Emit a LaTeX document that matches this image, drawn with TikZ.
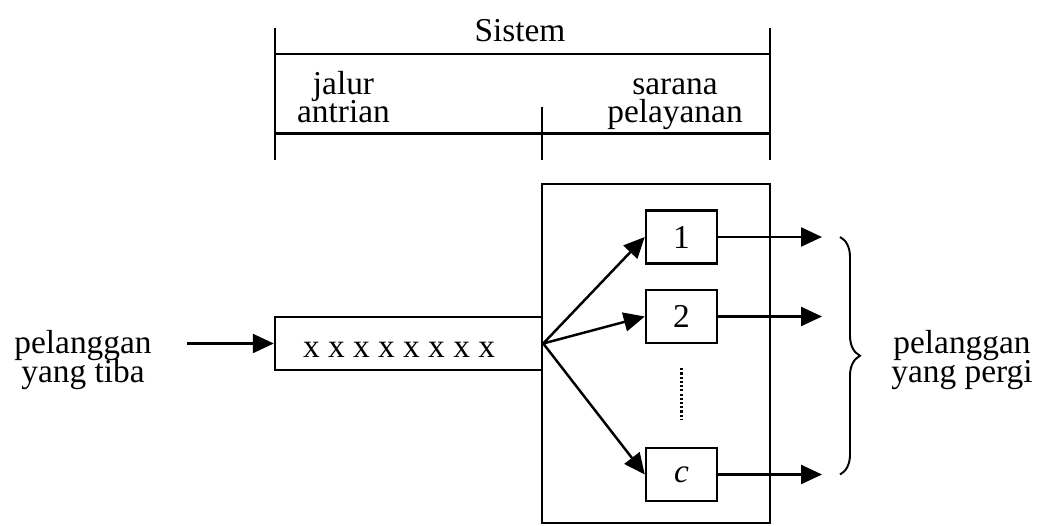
\documentclass[tikz,border=0pt]{standalone}
\usepackage{fontspec}
\setmainfont{Liberation Serif}
\usetikzlibrary{arrows.meta,positioning,calc,decorations.pathreplacing}
\newcommand\diagfont{\fontsize{19}{16}\selectfont\lineskiplimit-20pt\relax}
\tikzset{
  frame/.style  = {draw, line width=1.4pt, rectangle, inner sep=0pt},
  server/.style = {frame, minimum width=1.42cm, minimum height=1.06cm},
  txt/.style    = {align=center, inner sep=0pt},
  flow/.style   = {-{Triangle[length=4.2mm,width=3.8mm]}, line width=1.4pt},
  rule/.style   = {line width=1.4pt},
}

\begin{document}
\begin{tikzpicture}[x=1cm,y=1cm,font=\diagfont]
\useasboundingbox (0,0) rectangle (20.86,-10.52);
% system bracket
\draw[rule] (5.5,-0.57) -- (5.5,-3.2);
\draw[rule] (15.4,-0.57) -- (15.4,-3.2);
\draw[rule] (5.5,-1.08) -- (15.4,-1.08);
\draw[rule] (5.5,-2.67) -- (15.4,-2.67);
\draw[rule] (10.84,-2.14) -- (10.84,-3.2);
\node[txt,anchor=base] (sistem) at (10.4,-0.84) {Sistem};
\node[txt] (jalur) at (6.87,-1.95) {jalur\\antrian};
\node[txt] (sarana) at (13.5,-2.08) {sarana\\pelayanan};

% queue and service facility
\node[frame,minimum width=5.34cm,minimum height=1.06cm] (queue) at (8.17,-6.87) {};
\node[anchor=base] (xs) at (7.98,-7.16) {x x x x x x x x};
\node[frame,minimum width=4.56cm,minimum height=6.78cm] (facility) at (13.12,-7.07) {};
\node[server] (srv1) at (13.63,-4.74) {1};
\node[server] (srv2) at (13.63,-6.33) {2};
\node[server] (srvc) at (13.63,-9.49) {\textit{c}};
\draw[line width=1.6pt,dash pattern=on 1.2pt off 1.2pt]
  ([yshift=-0.48cm]srv2.south) -- ([yshift=0.53cm]srvc.north);

% arrivals and departures
\node[txt] (tiba) at (1.66,-7.2) {pelanggan\\yang tiba};
\coordinate (arrive) at (3.74,-6.87);
\coordinate (exit) at (16.44,0);
\coordinate (brace) at (16.8,0);
\draw[flow] (arrive) -- (queue.west);
\foreach \s in {srv1,srv2,srvc} {
  \draw[flow] (queue.east) -- (\s.west);
  \draw[flow] (\s.east) -- (\s.east -| exit);
}
\draw[line width=1.1pt,decorate,decoration={brace,amplitude=0.4cm}]
  (srv1 -| brace) -- (srvc -| brace);
\node[txt] (pergi) at (19.24,-7.2) {pelanggan\\yang pergi};
\end{tikzpicture}
\end{document}
